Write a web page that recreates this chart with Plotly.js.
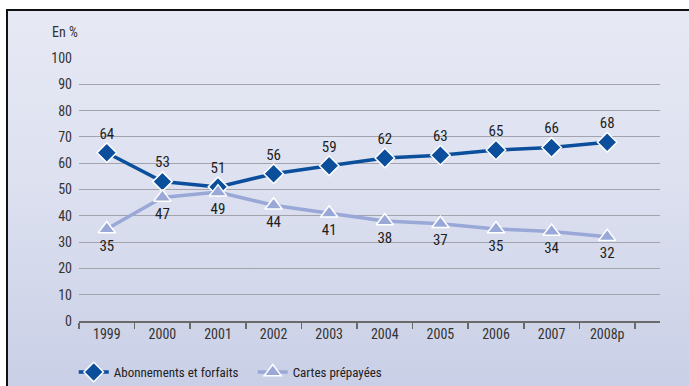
<!DOCTYPE html>
<html>
<head>
<meta charset="utf-8">
<script src="https://cdn.plot.ly/plotly-3.0.1.min.js"></script>
<style>
  html, body { margin: 0; padding: 0; background: #ffffff; }
  #wrap { position: relative; width: 689px; height: 386px; overflow: hidden; background: #ffffff; }
  #panel {
    position: absolute; left: 6px; top: 9px; width: 683px; height: 377px;
    border-top: 2px solid #111; border-left: 2px solid #111; box-sizing: border-box;
    background: linear-gradient(to bottom, #e7e9f4 0%, #dde1f0 45%, #c9cfe6 100%);
  }
  #chart { position: absolute; left: 0; top: 0; width: 689px; height: 386px; }
</style>
</head>
<body>
<div id="wrap">
  <div id="panel"></div>
  <div id="chart"></div>
</div>
<script>
// Part des abonnements/forfaits et des cartes prépayées (en %)
const years = ["1999", "2000", "2001", "2002", "2003", "2004", "2005", "2006", "2007", "2008p"];
const abonnements = [64, 53, 51, 56, 59, 62, 63, 65, 66, 68];
const cartes = [35, 47, 49, 44, 41, 38, 37, 35, 34, 32];
const yTicks = [0, 10, 20, 30, 40, 50, 60, 70, 80, 90, 100];

const FONT = "'Liberation Sans Narrow', 'Arial Narrow', 'Roboto Condensed', 'Liberation Sans', sans-serif";
const darkBlue = "#0b4f9c";
const lightBlue = "#9aa8d8";

const traces = [
  {
    x: years, y: abonnements, name: "Abonnements et forfaits",
    type: "scatter", mode: "lines+markers+text",
    text: abonnements.map(String), textposition: "top center",
    textfont: { family: FONT, size: 15, color: "#1e1e1e" },
    line: { color: darkBlue, width: 3.5 },
    marker: { symbol: "diamond", size: 15, color: darkBlue, line: { color: "#ffffff", width: 1.5 } },
    cliponaxis: false
  },
  {
    x: years, y: cartes, name: "Cartes prépayées",
    type: "scatter", mode: "lines+markers+text",
    text: cartes.map(String), textposition: "bottom center",
    textfont: { family: FONT, size: 15, color: "#1e1e1e" },
    line: { color: lightBlue, width: 3.5 },
    marker: { symbol: "triangle-up", size: 15, color: lightBlue, line: { color: "#ffffff", width: 1.5 } },
    cliponaxis: false
  }
];

const layout = {
  width: 689, height: 386,
  margin: { l: 79, r: 29, t: 58, b: 65, autoexpand: false },
  paper_bgcolor: "rgba(0,0,0,0)",
  plot_bgcolor: "rgba(0,0,0,0)",
  font: { family: FONT, size: 14, color: "#333333" },
  showlegend: true,
  legend: {
    orientation: "h", xref: "container", yref: "container",
    x: 0.107, xanchor: "left", y: 0.036, yanchor: "middle",
    font: { family: FONT, size: 13, color: "#222222" },
    bgcolor: "rgba(0,0,0,0)", itemwidth: 30, tracegroupgap: 0,
    entrywidth: 134, entrywidthmode: "pixels"
  },
  xaxis: {
    type: "category", range: [-0.5, 9.95],
    tickson: "boundaries", ticks: "outside", ticklen: 6, tickcolor: "#6a6a6a", tickwidth: 1.5,
    showline: true, linecolor: "#6a6a6a", linewidth: 1.5,
    showgrid: false, zeroline: false,
    tickfont: { family: FONT, size: 14, color: "#333333" },
    fixedrange: true
  },
  yaxis: {
    range: [0, 100], tickvals: yTicks, ticktext: yTicks.map(String),
    showgrid: true, gridcolor: "#a2a3ac", gridwidth: 1,
    zeroline: false, showline: false, ticks: "",
    ticklabelstandoff: 6,
    tickfont: { family: FONT, size: 14, color: "#333333" },
    fixedrange: true
  },
  annotations: [
    {
      text: "En %", xref: "paper", yref: "paper", x: -0.05, y: 1.1,
      xanchor: "left", yanchor: "middle", showarrow: false,
      font: { family: FONT, size: 14, color: "#333333" }
    }
  ]
};

Plotly.newPlot("chart", traces, layout, { displayModeBar: false, staticPlot: true });
</script>
</body>
</html>
